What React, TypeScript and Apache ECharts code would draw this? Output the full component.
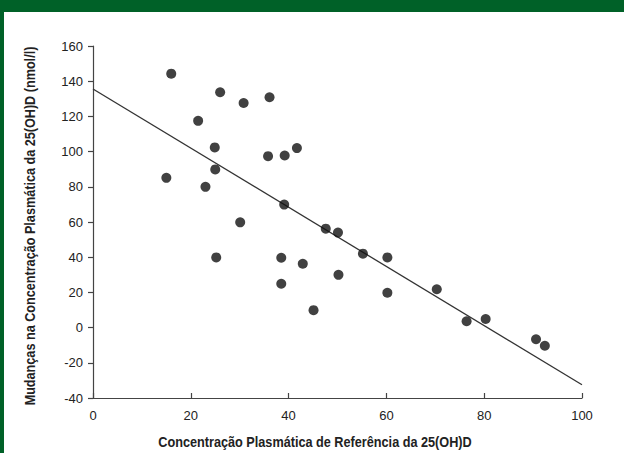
import React, { useEffect, useRef } from "react";
import * as echarts from "echarts";

const xTicks = [0, 20, 40, 60, 80, 100];
const yTicks = [-40, -20, 0, 20, 40, 60, 80, 100, 120, 140, 160];
const baselineX = [16, 26, 30.8, 36.1, 21.5, 24.9, 35.8, 39.2, 41.7, 15, 25, 23, 39.1, 30.1, 47.6, 50.1, 55.2, 60.2, 38.5, 42.9, 38.5, 50.2, 60.2, 45.1, 70.3, 76.4, 80.3, 90.6, 92.4, 25.2];
const changeY = [144.3, 133.7, 127.6, 130.9, 117.5, 102.4, 97.4, 97.8, 102, 85.1, 89.9, 80, 69.9, 59.8, 56.2, 54, 42, 39.9, 39.7, 36.3, 24.9, 30, 19.8, 9.9, 21.8, 3.6, 4.9, -6.6, -10.3, 39.9];
const fitX = [0, 100];
const fitY = [135.6, -32.5];
const xName = "Concentração Plasmática de Referência da 25(OH)D";
const yName = "Mudanças na Concentração Plasmática da 25(OH)D (nmol/l)";

const GREEN = "#006128";
const NAME_FONT = "bold 15px 'Liberation Sans', Arial, sans-serif";
const LABEL_FONT = "'Liberation Sans', Arial, sans-serif";

function measure(text: string, font: string): number {
  const c = document.createElement("canvas");
  const ctx = c.getContext("2d");
  if (!ctx) return text.length * 8;
  ctx.font = font;
  return ctx.measureText(text).width;
}

export default function App() {
  const ref = useRef<HTMLDivElement>(null);
  useEffect(() => {
    const chart = echarts.init(ref.current!, null, { renderer: "svg" });
    const xw = measure(xName, NAME_FONT);
    const yw = measure(yName, NAME_FONT);
    chart.setOption({
      animation: false,
      backgroundColor: "#ffffff",
      grid: { left: 93, right: 42, top: 46, bottom: 55 },
      xAxis: {
        type: "value",
        min: xTicks[0],
        max: xTicks[xTicks.length - 1],
        interval: 20,
        splitLine: { show: false },
        axisLine: { show: true, onZero: false, lineStyle: { color: "#444", width: 1.2 } },
        axisTick: { show: true, inside: true, length: 5, lineStyle: { color: "#444", width: 1.2 } },
        axisLabel: { color: "#222", fontSize: 13, margin: 11, fontFamily: LABEL_FONT },
      },
      yAxis: {
        type: "value",
        min: yTicks[0],
        max: yTicks[yTicks.length - 1],
        interval: 20,
        splitLine: { show: false },
        axisLine: { show: true, onZero: false, lineStyle: { color: "#444", width: 1.2 } },
        axisTick: { show: true, inside: false, length: 5, lineStyle: { color: "#444", width: 1.2 } },
        axisLabel: { color: "#222", fontSize: 13, margin: 10, fontFamily: LABEL_FONT },
      },
      series: [
        {
          type: "line",
          data: fitX.map((x, i) => [x, fitY[i]]),
          showSymbol: false,
          symbol: "none",
          lineStyle: { color: "#333", width: 1.3 },
          z: 1,
        },
        {
          type: "scatter",
          data: baselineX.map((x, i) => [x, changeY[i]]),
          symbolSize: 10,
          itemStyle: { color: "#111" },
          z: 2,
        },
      ],
      graphic: [
        { type: "rect", left: 0, top: 0, shape: { width: 624, height: 12 }, style: { fill: GREEN } },
        { type: "rect", left: 0, top: 0, shape: { width: 4, height: 453 }, style: { fill: GREEN } },
        {
          type: "text",
          x: 315,
          y: 442,
          scaleX: 314 / xw,
          style: { text: xName, fill: "#222", font: NAME_FONT, textAlign: "center", textVerticalAlign: "middle" },
        },
        {
          type: "text",
          x: 30,
          y: 226,
          rotation: Math.PI / 2,
          scaleX: 359 / yw,
          style: { text: yName, fill: "#222", font: NAME_FONT, textAlign: "center", textVerticalAlign: "middle" },
        },
      ],
    });
    return () => chart.dispose();
  }, []);
  return (
    <div style={{ position: "fixed", left: 0, top: 0, width: 624, height: 453, background: "#fff" }}>
      <div ref={ref} style={{ width: 624, height: 453 }} />
    </div>
  );
}
